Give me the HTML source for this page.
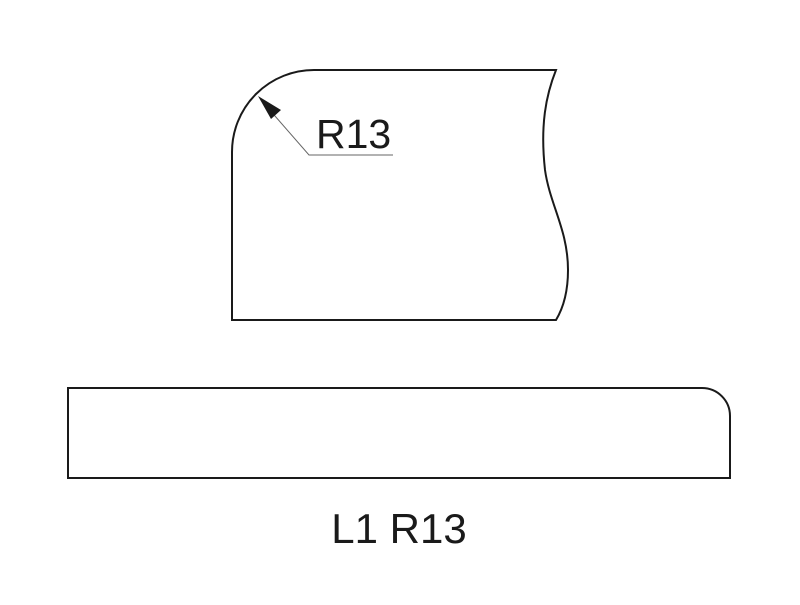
<!DOCTYPE html>
<html><head><style>body{margin:0;background:#fff}</style></head><body>
<svg width="800" height="600" xmlns="http://www.w3.org/2000/svg">
<rect width="800" height="600" fill="#fff"/>
<path d="M232,320 L232,152 A82,82 0 0 1 314,70 L556,70 C546,95 540,125 545,170 C550,205 568,230 568,270 C568,295 562,310 556,320 Z" fill="none" stroke="#1a1a1a" stroke-width="2"/>
<polyline points="268,108 309,155 393,155" fill="none" stroke="#666" stroke-width="1"/>
<polygon points="258,96 281,110 271,119" fill="#1a1a1a"/>
<text x="316" y="148" font-family="Liberation Sans, sans-serif" font-size="41" fill="#1a1a1a">R13</text>
<path d="M68,388 L702,388 A28,28 0 0 1 730,416 L730,478 L68,478 Z" fill="none" stroke="#1a1a1a" stroke-width="2"/>
<text x="399" y="543" text-anchor="middle" font-family="Liberation Sans, sans-serif" font-size="42" fill="#1a1a1a">L1 R13</text>
</svg>
</body></html>
